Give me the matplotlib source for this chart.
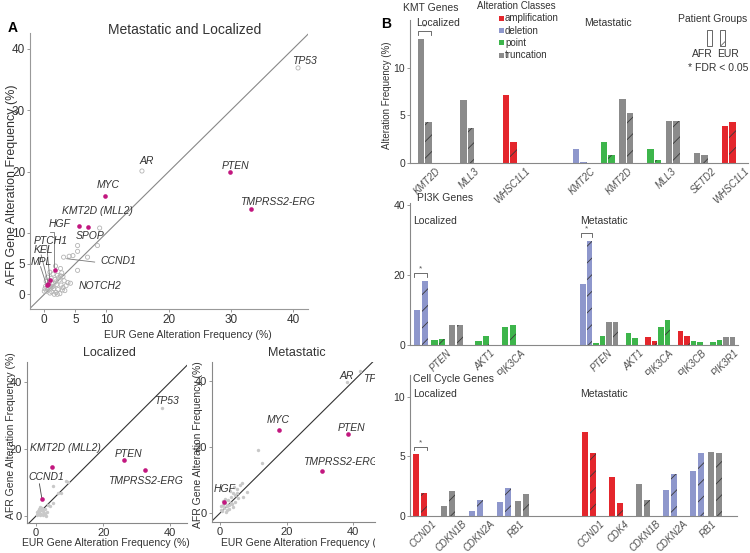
import matplotlib.pyplot as plt
import matplotlib.patches as mpatches
from matplotlib.transforms import Bbox, TransformedBbox

plt.rcParams['font.family'] = ['Liberation Sans', 'DejaVu Sans']
plt.rcParams['hatch.linewidth'] = 0.6

W, H = 750, 553
MAGENTA = '#c2177f'
class_colors = {'amplification': '#e4262c', 'deletion': '#8e97cc',
                'point': '#3db54b', 'truncation': '#8b8b8b'}

# ---------------- panel A data (EUR %, AFR %) ----------------
# metastatic and localized
both_hit_genes = ['PTEN', 'MYC', 'TMPRSS2-ERG', 'KMT2D (MLL2)', 'SPOP', 'HGF', 'PTCH1', 'KEL', 'MPL']
both_hit_eur = [29.9, 9.7, 33.2, 5.6, 7.1, 1.7, 0.9, 0.65, 0.37]
both_hit_afr = [19.9, 16.0, 13.9, 11.1, 10.9, 3.9, 2.3, 1.75, 1.46]
both_lab_genes = ['TP53', 'AR', 'CCND1', 'NOTCH2']
both_lab_eur = [40.8, 15.7, 3.1, 4.2]
both_lab_afr = [36.9, 20.1, 6.05, 1.8]
both_grey_eur = [8.9, 8.55, 5.35, 5.35, 4.0, 4.6, 6.95, 5.35, 1.8, 2.6, 0.9, 1.4, 2.1, 2.8,
                 3.0, 0.5, 1.1, 1.7, 2.4, 3.2, 0.3, 0.8, 1.3, 2.0, 2.7, 3.5, 0.2, 0.6, 1.0,
                 1.5, 2.2, 2.9, 0.4, 1.2, 1.9, 2.5, 3.3, 1.6, 2.1, 0.1, 0.7, 1.8, 2.3, 1.4,
                 3.0, 0.9, 2.6, 1.2, 3.8, 0.0]
both_grey_afr = [10.8, 7.95, 7.95, 7.0, 6.2, 6.3, 6.05, 3.9, 4.6, 4.2, 3.6, 3.3, 3.1, 3.5,
                 2.9, 2.8, 2.6, 2.4, 2.3, 2.2, 2.1, 1.9, 1.7, 1.6, 1.5, 1.4, 1.3, 1.1, 1.0,
                 0.9, 0.8, 0.7, 0.5, 0.4, 0.3, 0.1, 0.6, 0.0, 0.0, 0.9, 1.5, 2.0, 2.7, 1.3,
                 1.1, 0.2, 3.0, 1.2, 1.9, 0.5]

# localized
loc_hit_genes = ['KMT2D (MLL2)', 'PTEN', 'TMPRSS2-ERG', 'CCND1']
loc_hit_eur = [4.9, 26.2, 32.5, 1.9]
loc_hit_afr = [14.6, 16.7, 13.6, 5.0]
loc_lab_genes = ['TP53']
loc_lab_eur = [37.5]
loc_lab_afr = [32.4]
loc_grey_eur = [5.2, 8.8, 6.5, 7.5, 5.2, 3.5, 0.5, 0.8, 1.0, 1.3, 1.6, 2.0, 2.4, 2.8, 3.2,
                0.3, 0.6, 1.2, 1.8, 2.2, 0.9, 1.5, 2.6, 0.2, 1.1, 4.2, 3.0, 9.5]
loc_grey_afr = [9.0, 10.5, 7.0, 6.8, 3.8, 3.3, 1.6, 2.2, 1.0, 1.8, 0.6, 1.4, 0.8, 2.0, 1.2,
                0.4, 0.9, 0.2, 2.4, 0.3, 1.3, 1.9, 0.5, 1.1, 2.6, 2.9, 0.0, 10.0]

# metastatic
met_hit_genes = ['MYC', 'PTEN', 'TMPRSS2-ERG', 'HGF']
met_hit_eur = [17.6, 38.5, 30.6, 1.2]
met_hit_afr = [25.2, 23.9, 12.9, 3.4]
met_lab_genes = ['AR', 'TP53']
met_lab_eur = [38.0, 42.0]
met_lab_afr = [39.6, 43.0]
met_grey_eur = [11.3, 12.5, 6.5, 6.0, 8.2, 0.4, 0.8, 1.2, 1.6, 2.0, 2.4, 2.8, 3.2, 3.6, 4.0,
                4.5, 5.0, 5.5, 0.6, 1.4, 2.2, 3.0, 3.8, 4.6, 1.0, 1.8, 2.6, 3.4, 5.2, 0.2,
                7.0, 4.2]
met_grey_afr = [19.1, 15.2, 9.2, 8.4, 6.4, 1.0, 2.5, 1.6, 3.2, 2.0, 4.0, 1.2, 5.0, 2.8, 6.0,
                3.5, 7.2, 4.5, 0.6, 4.4, 0.8, 6.6, 1.8, 5.6, 3.8, 0.4, 2.4, 3.0, 6.2, 2.0,
                5.0, 8.0]

# ---------------- panel B data (AFR %, EUR %) ----------------
kmt_loc_gene = ['KMT2D', 'MLL3', 'WHSC1L1']
kmt_loc_class = ['truncation', 'truncation', 'amplification']
kmt_loc_afr = [13.0, 6.6, 7.15]
kmt_loc_eur = [4.3, 3.65, 2.25]
kmt_loc_sig = [1, 0, 0]

kmt_met_gene = ['KMT2C', 'KMT2D', 'KMT2D', 'MLL3', 'MLL3', 'SETD2', 'WHSC1L1']
kmt_met_class = ['deletion', 'point', 'truncation', 'point', 'truncation', 'truncation', 'amplification']
kmt_met_afr = [1.45, 2.25, 6.7, 1.45, 4.45, 1.05, 3.9]
kmt_met_eur = [0.15, 0.8, 5.25, 0.3, 4.45, 0.85, 4.3]
kmt_met_sig = [0, 0, 0, 0, 0, 0, 0]

pi3k_loc_gene = ['PTEN', 'PTEN', 'PTEN', 'AKT1', 'PIK3CA']
pi3k_loc_class = ['deletion', 'point', 'truncation', 'point', 'point']
pi3k_loc_afr = [10.0, 1.3, 5.6, 1.2, 5.2]
pi3k_loc_eur = [18.3, 1.8, 5.6, 2.6, 5.7]
pi3k_loc_sig = [1, 0, 0, 0, 0]

pi3k_met_gene = ['PTEN', 'PTEN', 'PTEN', 'AKT1', 'PIK3CA', 'PIK3CA', 'PIK3CB', 'PIK3CB', 'PIK3R1', 'PIK3R1']
pi3k_met_class = ['deletion', 'point', 'truncation', 'point', 'amplification', 'point',
                  'amplification', 'point', 'point', 'truncation']
pi3k_met_afr = [17.5, 0.7, 6.7, 3.5, 2.3, 5.2, 4.0, 1.2, 0.75, 2.4]
pi3k_met_eur = [29.7, 2.5, 6.7, 1.9, 1.1, 7.1, 2.5, 0.85, 1.3, 2.4]
pi3k_met_sig = [1, 0, 0, 0, 0, 0, 0, 0, 0, 0]

cc_loc_gene = ['CCND1', 'CDKN1B', 'CDKN2A', 'RB1', 'RB1']
cc_loc_class = ['amplification', 'truncation', 'deletion', 'deletion', 'truncation']
cc_loc_afr = [5.15, 0.8, 0.42, 1.2, 1.25]
cc_loc_eur = [1.9, 2.1, 1.3, 2.35, 1.8]
cc_loc_sig = [1, 0, 0, 0, 0]

cc_met_gene = ['CCND1', 'CDK4', 'CDKN1B', 'CDKN2A', 'RB1', 'RB1']
cc_met_class = ['amplification', 'amplification', 'truncation', 'deletion', 'deletion', 'truncation']
cc_met_afr = [7.05, 3.25, 2.7, 2.15, 3.75, 5.38]
cc_met_eur = [5.27, 1.1, 1.3, 3.55, 5.27, 5.27]
cc_met_sig = [0, 0, 0, 0, 0, 0]


fig = plt.figure(figsize=(7.5, 5.53), dpi=100)


def box(l, t, r, b):
    return [l / W, 1 - b / H, (r - l) / W, (b - t) / H]


def ftext(x, y, s, **kw):
    kw.setdefault('va', 'center')
    return fig.text(x / W, 1 - y / H, s, **kw)


def scatter_panel(rect, xlim, ylim, ticks, grey, lab, hit, labels, main=False, clip=False):
    ax = fig.add_axes(box(*rect))
    ax.set_xlim(*xlim)
    ax.set_ylim(*ylim)
    for s in ['top', 'right']:
        ax.spines[s].set_visible(False)
    for s in ['left', 'bottom']:
        ax.spines[s].set_color('#999999' if main else '#888888')
        ax.spines[s].set_linewidth(0.8)
    ax.set_xticks(ticks)
    ax.set_yticks(ticks)
    ax.tick_params(length=2, width=0.6, color='#888888', labelsize=8.5 if main else 8,
                   labelcolor='#333333', pad=1.5)
    ax.axline((0, 0), slope=1, color='#888888' if main else '#333333', lw=0.8, zorder=1)
    if main:
        ax.scatter(grey[0] + lab[1], grey[1] + lab[2], s=9, facecolor='none',
                   edgecolor='#b3b3b3', lw=0.6, zorder=2)
    else:
        ax.scatter(grey[0] + lab[1], grey[1] + lab[2], s=6, color='#c8c8c8', lw=0, zorder=2)
    ax.scatter(hit[1], hit[2], s=11, color=MAGENTA, lw=0, zorder=3)
    for g, (x, y) in labels.items():
        ax.text(x, y, g, ha='center', va='center', style='italic', fontsize=7.5,
                color='#333333', clip_on=clip)
    return ax


# ---------- panel A ----------
ax_all = scatter_panel((30, 33, 308, 309), (-2.3, 42.4), (-2.4, 42.6), [0, 5, 10, 20, 30, 40],
                       (both_grey_eur, both_grey_afr),
                       (both_lab_genes, both_lab_eur, both_lab_afr),
                       (both_hit_genes, both_hit_eur, both_hit_afr),
                       {'TP53': (41.9, 38.1), 'AR': (16.5, 21.75), 'PTEN': (30.8, 20.9),
                        'MYC': (10.2, 17.8), 'TMPRSS2-ERG': (37.45, 15.1),
                        'KMT2D (MLL2)': (8.6, 13.5), 'HGF': (2.4, 11.5), 'SPOP': (7.3, 9.5),
                        'PTCH1': (1.07, 8.65), 'KEL': (-0.2, 7.14), 'MPL': (-0.5, 5.25),
                        'CCND1': (11.9, 5.36), 'NOTCH2': (9.0, 1.35)}, main=True)
lc = '#777777'
ax_all.plot([0.96, 1.5, 1.5], [10.2, 10.2, 4.4], color=lc, lw=0.6)
ax_all.plot([0.4, 0.9], [7.9, 2.3], color=lc, lw=0.6)
ax_all.plot([-0.5, 0.65], [6.4, 1.75], color=lc, lw=0.6)
ax_all.plot([-0.6, 0.37], [4.5, 1.46], color=lc, lw=0.6)
ax_all.plot([3.6, 8.1], [5.8, 5.25], color=lc, lw=0.6)

ax_loc = scatter_panel((27, 362, 187, 523), (-2.7, 45), (-2.1, 46), [0, 20, 40],
                       (loc_grey_eur, loc_grey_afr),
                       (loc_lab_genes, loc_lab_eur, loc_lab_afr),
                       (loc_hit_genes, loc_hit_eur, loc_hit_afr),
                       {'TP53': (39, 34.4), 'KMT2D (MLL2)': (8.7, 20.2), 'PTEN': (27.6, 18.5),
                        'TMPRSS2-ERG': (32.7, 10.4), 'CCND1': (3.0, 11.5)})
ax_loc.plot([1.0, 1.7], [9.6, 5.4], color='#444444', lw=0.6)

ax_met = scatter_panel((212, 362, 375, 522), (-2.4, 46.5), (-2.7, 45.8), [0, 20, 40],
                       (met_grey_eur, met_grey_afr),
                       (met_lab_genes, met_lab_eur, met_lab_afr),
                       (met_hit_genes, met_hit_eur, met_hit_afr),
                       {'AR': (38.0, 41.6), 'TP53': (46.5, 40.75), 'PTEN': (39.5, 25.9),
                        'MYC': (17.5, 28.2), 'TMPRSS2-ERG': (36.3, 15.4), 'HGF': (1.5, 7.4)},
                       clip=True)

ftext(13, 28, 'A', fontsize=10, fontweight='bold', ha='center')
ftext(184.5, 30, 'Metastatic and Localized', fontsize=10, ha='center', color='#333333')
ftext(109, 353, 'Localized', fontsize=9, ha='center', color='#333333')
ftext(297, 353, 'Metastatic', fontsize=9, ha='center', color='#333333')
ftext(187.5, 335, 'EUR Gene Alteration Frequency (%)', fontsize=7.5, ha='center', color='#333333')
ftext(12, 185, 'AFR Gene Alteration Frequency (%)', fontsize=9, ha='center', rotation=90,
      color='#333333')
ftext(106, 543, 'EUR Gene Alteration Frequency (%)', fontsize=7.5, ha='center', color='#333333')
ftext(11, 436, 'AFR Gene Alteration Frequency (%)', fontsize=7.5, ha='center', rotation=90,
      color='#333333')
t = ftext(305, 543, 'EUR Gene Alteration Frequency (%)', fontsize=7.5, ha='center',
          color='#333333')
t.set_clip_box(TransformedBbox(Bbox([[0, 0], [375 / W, 1]]), fig.transFigure))
t.set_clip_on(True)
ftext(198, 445, 'AFR Gene Alteration Frequency (%)', fontsize=7.5, ha='center', rotation=90,
      color='#333333')


# ---------- panel B ----------
def draw_section(ax, gene, cls, afr, eur, sig, start, ep, gp, off, bw, ytop):
    x = start
    prev = None
    spans = {}
    for i, g in enumerate(gene):
        if prev is not None:
            x += ep if g == prev else gp
        prev = g
        c = class_colors[cls[i]]
        ax.bar(x, afr[i], bw, color=c, linewidth=0)
        ax.bar(x + off, eur[i], bw, color=c, hatch='//', edgecolor='#3a3a3a', linewidth=0)
        spans.setdefault(g, []).extend([x, x + off])
        if sig[i]:
            yb = max(afr[i], eur[i]) + 0.055 * ytop
            d = 0.025 * ytop
            x1, x2 = x - bw / 2 + 0.5, x + off + bw / 2 - 0.5
            ax.plot([x1, x1, x2, x2], [yb - d, yb, yb, yb - d], color='#555555', lw=0.6)
            ax.text((x1 + x2) / 2, yb + 0.005 * ytop, '*', ha='center', va='bottom',
                    fontsize=6, color='#555555')
    return [(min(v) + max(v)) / 2 + 2.5 for v in spans.values()], list(spans.keys())


def bar_panel(rect, ytop, yticks, sections):
    ax = fig.add_axes(box(*rect))
    ax.set_xlim(rect[0], rect[2])
    ax.set_ylim(0, ytop)
    for s in ['top', 'right']:
        ax.spines[s].set_visible(False)
    for s in ['left', 'bottom']:
        ax.spines[s].set_color('#888888')
        ax.spines[s].set_linewidth(0.8)
    ticks, labels = [], []
    for data, lay in sections:
        tk, lb = draw_section(ax, *data, *lay, ytop)
        ticks += tk
        labels += lb
    ax.set_xticks(ticks)
    ax.set_xticklabels(labels, rotation=45, ha='center', fontsize=7, style='italic',
                       color='#505050')
    ax.set_yticks(yticks)
    ax.tick_params(axis='x', length=0, pad=2)
    ax.tick_params(axis='y', length=2, width=0.6, color='#888888', labelsize=7.5,
                   labelcolor='#333333', pad=1.5)
    return ax


bar_panel((410, 20, 748, 163), 15, [0, 5, 10], [
    ((kmt_loc_gene, kmt_loc_class, kmt_loc_afr, kmt_loc_eur, kmt_loc_sig), (421, 18.5, 42.5, 7.3, 6.5)),
    ((kmt_met_gene, kmt_met_class, kmt_met_afr, kmt_met_eur, kmt_met_sig), (576, 18.5, 28, 7.5, 6.5)),
])
bar_panel((410, 203, 738, 345), 40.5, [0, 20, 40], [
    ((pi3k_loc_gene, pi3k_loc_class, pi3k_loc_afr, pi3k_loc_eur, pi3k_loc_sig), (417, 17.5, 26.5, 7.8, 6.3)),
    ((pi3k_met_gene, pi3k_met_class, pi3k_met_afr, pi3k_met_eur, pi3k_met_sig), (583, 13, 19.5, 6.5, 5.5)),
])
bar_panel((410, 375, 737, 516), 11.8, [0, 5, 10], [
    ((cc_loc_gene, cc_loc_class, cc_loc_afr, cc_loc_eur, cc_loc_sig), (416.3, 18, 28, 8, 6.3)),
    ((cc_met_gene, cc_met_class, cc_met_afr, cc_met_eur, cc_met_sig), (585, 18, 27, 8, 6)),
])

tc = '#333333'
ftext(386, 24, 'B', fontsize=10, fontweight='bold', ha='center')
ftext(387, 95, 'Alteration Frequency (%)', fontsize=7, rotation=90, ha='center', color=tc)
ftext(403, 8, 'KMT Genes', fontsize=7.5, color=tc)
ftext(416, 23, 'Localized', fontsize=7.5, color=tc)
ftext(584, 23, 'Metastatic', fontsize=7.5, color=tc)
ftext(417, 198, 'PI3K Genes', fontsize=7.5, color=tc)
ftext(413, 221, 'Localized', fontsize=7.5, color=tc)
ftext(580, 221, 'Metastatic', fontsize=7.5, color=tc)
ftext(413, 379, 'Cell Cycle Genes', fontsize=7.5, color=tc)
ftext(413, 394, 'Localized', fontsize=7.5, color=tc)
ftext(580, 394, 'Metastatic', fontsize=7.5, color=tc)

# alteration class legend
ftext(477, 6, 'Alteration Classes', fontsize=7, color=tc)
for i, (name, col) in enumerate(class_colors.items()):
    yc = 18.3 + i * 12.3
    fig.patches.append(mpatches.Rectangle((499 / W, 1 - (yc + 2.5) / H), 5 / W, 5 / H,
                                          transform=fig.transFigure, color=col, lw=0))
    ftext(505, yc, name, fontsize=7, color=tc)

# patient groups legend
ftext(678, 19, 'Patient Groups', fontsize=7.5, color=tc)
fig.patches.append(mpatches.Rectangle((707 / W, 1 - 46 / H), 5 / W, 16 / H, transform=fig.transFigure,
                                      fill=False, edgecolor='#666666', lw=0.7))
fig.patches.append(mpatches.Rectangle((720 / W, 1 - 46 / H), 5 / W, 16 / H, transform=fig.transFigure,
                                      fill=False, edgecolor='#666666', lw=0.7, hatch='/'))
ftext(702, 54, 'AFR', fontsize=7.5, ha='center', color=tc)
ftext(728, 54, 'EUR', fontsize=7.5, ha='center', color=tc)
ftext(688, 68, '* FDR < 0.05', fontsize=7.5, color=tc)

fig.savefig('out.png', dpi=100)
